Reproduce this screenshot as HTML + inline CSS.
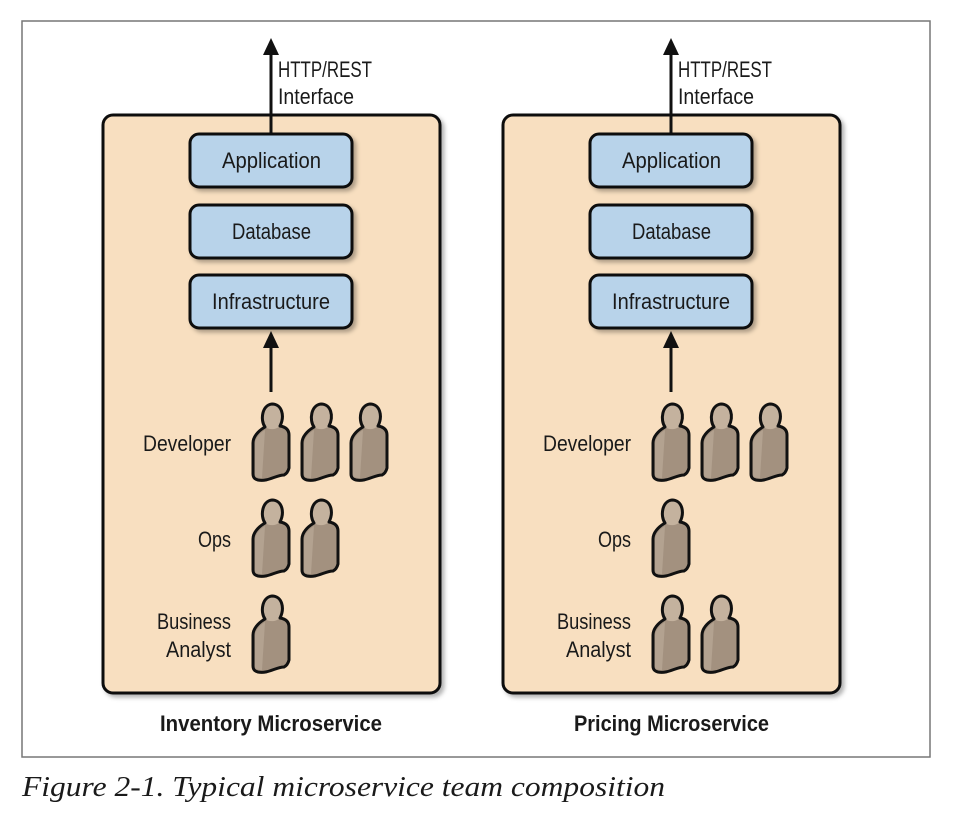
<!DOCTYPE html>
<html><head><meta charset="utf-8"><style>
html,body{margin:0;padding:0;background:#fff;width:958px;height:830px;overflow:hidden}
svg text{font-family:"Liberation Sans",sans-serif;fill:#1a1a1a}
</style></head><body>
<svg width="958" height="830" viewBox="0 0 958 830" xmlns="http://www.w3.org/2000/svg">
<defs>
<filter id="sh" x="-10%" y="-10%" width="130%" height="130%"><feDropShadow dx="3" dy="3" stdDeviation="2" flood-color="#000" flood-opacity="0.3"/></filter>
<g id="p">
<path d="M13,25 C8,18 10,3 20,2 C30,2 33,14 28,24 C34,25 37,28 37,33 L37,66 C36,70 34,72 32,73 C24,73 16,80 6,78 C2,77 1,75 1,72 L1,41 C1,35 6,29 13,25 Z" fill="#a3917f"/>
<path d="M13,25 C8,18 10,3 20,2 C30,2 33,14 28,24 C24,28 17,28 13,25 Z" fill="#c4b29e"/>
<path d="M3,42 C3,36 8,31 13,28 L10,76 C5,76 3,75 3,72 Z" fill="#b3a290"/>
<path d="M13,25 C8,18 10,3 20,2 C30,2 33,14 28,24 C34,25 37,28 37,33 L37,66 C36,70 34,72 32,73 C24,73 16,80 6,78 C2,77 1,75 1,72 L1,41 C1,35 6,29 13,25 Z" fill="none" stroke="#111" stroke-width="3" stroke-linejoin="round"/>
</g>
</defs>
<rect x="22" y="21" width="908" height="736" fill="#fff" stroke="#777" stroke-width="1.5"/>

<g id="panel">
<rect x="103" y="115" width="337" height="578" rx="10" fill="#f8dfc0" stroke="#111" stroke-width="3" filter="url(#sh)"/>
<line x1="271" y1="134" x2="271" y2="52" stroke="#111" stroke-width="3"/>
<polygon points="271,38 263,55 279,55" fill="#111"/>
<line x1="271" y1="392" x2="271" y2="345" stroke="#111" stroke-width="3"/>
<polygon points="271,331 263,348 279,348" fill="#111"/>
<rect x="190" y="134" width="162" height="53" rx="9" fill="#b8d3ea" stroke="#111" stroke-width="3" filter="url(#sh)"/>
<rect x="190" y="205" width="162" height="53" rx="9" fill="#b8d3ea" stroke="#111" stroke-width="3" filter="url(#sh)"/>
<rect x="190" y="275" width="162" height="53" rx="9" fill="#b8d3ea" stroke="#111" stroke-width="3" filter="url(#sh)"/>
<text x="222" y="168" font-size="22" textLength="99" lengthAdjust="spacingAndGlyphs">Application</text>
<text x="232" y="239" font-size="22" textLength="79" lengthAdjust="spacingAndGlyphs">Database</text>
<text x="212" y="309" font-size="22" textLength="118" lengthAdjust="spacingAndGlyphs">Infrastructure</text>
<text x="278" y="77" font-size="22" textLength="94" lengthAdjust="spacingAndGlyphs">HTTP/REST</text>
<text x="278" y="104" font-size="22" textLength="76" lengthAdjust="spacingAndGlyphs">Interface</text>
<text x="143" y="451" font-size="22" textLength="88" lengthAdjust="spacingAndGlyphs">Developer</text>
<text x="198" y="547" font-size="22" textLength="33" lengthAdjust="spacingAndGlyphs">Ops</text>
<text x="157" y="629" font-size="22" textLength="74" lengthAdjust="spacingAndGlyphs">Business</text>
<text x="166" y="657" font-size="22" textLength="65" lengthAdjust="spacingAndGlyphs">Analyst</text>
<use href="#p" x="252" y="402"/>
<use href="#p" x="301" y="402"/>
<use href="#p" x="350" y="402"/>
</g>
<use href="#p" x="252" y="498"/>
<use href="#p" x="301" y="498"/>
<use href="#p" x="252" y="594"/>
<text x="160" y="731" font-size="22" font-weight="bold" textLength="222" lengthAdjust="spacingAndGlyphs">Inventory Microservice</text>

<use href="#panel" x="400" y="0"/>
<use href="#p" x="652" y="498"/>
<use href="#p" x="652" y="594"/>
<use href="#p" x="701" y="594"/>
<text x="574" y="731" font-size="22" font-weight="bold" textLength="195" lengthAdjust="spacingAndGlyphs">Pricing Microservice</text>

<text x="22" y="796" font-size="28" font-style="italic" style="font-family:'Liberation Serif',serif" textLength="643" lengthAdjust="spacingAndGlyphs">Figure 2-1. Typical microservice team composition</text>
</svg>
</body></html>
